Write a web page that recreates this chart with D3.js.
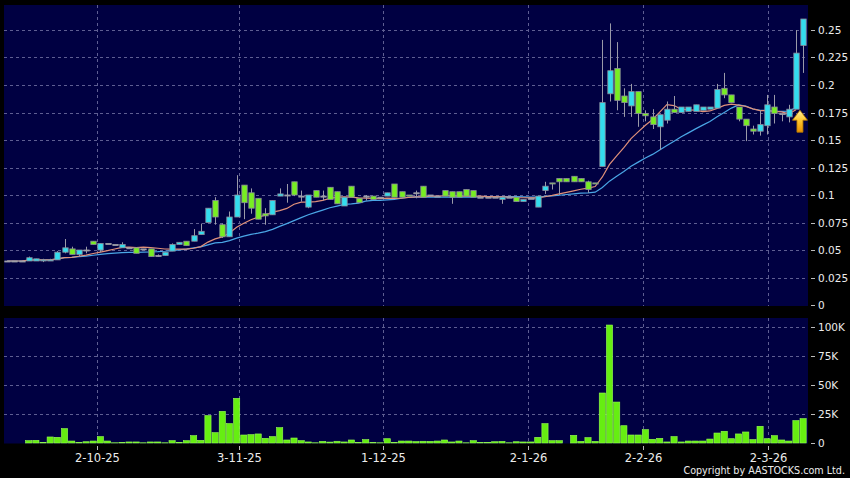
<!DOCTYPE html>
<html><head><meta charset="utf-8">
<script src="https://cdn.jsdelivr.net/npm/d3@7"></script>
<style>html,body{margin:0;padding:0;background:#000;}svg{display:block;}</style>
</head><body>
<svg id="chart" width="850" height="478"></svg>
<script>
// ---- data ----
const opens  = [0.040,0.040,0.040,0.040,0.040,0.040,0.040,0.041,0.048,0.051,0.046,0.050,0.058,0.050,0.056,0.055,0.052,0.052,0.052,0.051,0.051,0.045,0.045,0.049,0.055,0.058,0.058,0.064,0.075,0.095,0.073,0.062,0.080,0.109,0.102,0.097,0.083,0.082,0.099,0.100,0.112,0.099,0.089,0.104,0.099,0.107,0.103,0.090,0.108,0.097,0.099,0.099,0.098,0.099,0.110,0.103,0.100,0.102,0.108,0.100,0.099,0.104,0.103,0.103,0.105,0.104,0.098,0.098,0.098,0.096,0.098,0.098,0.094,0.097,0.089,0.104,0.111,0.115,0.115,0.117,0.115,0.112,0.111,0.126,0.192,0.215,0.190,0.181,0.194,0.174,0.171,0.162,0.168,0.178,0.175,0.176,0.176,0.177,0.178,0.179,0.197,0.191,0.180,0.169,0.160,0.158,0.163,0.180,0.174,0.171,0.178,0.236];
const highs  = [0.040,0.040,0.040,0.044,0.042,0.042,0.042,0.049,0.060,0.053,0.050,0.053,0.058,0.056,0.056,0.055,0.057,0.052,0.052,0.051,0.051,0.046,0.048,0.056,0.057,0.058,0.069,0.074,0.088,0.098,0.074,0.085,0.118,0.109,0.106,0.097,0.088,0.095,0.106,0.110,0.112,0.104,0.100,0.104,0.104,0.107,0.103,0.098,0.108,0.097,0.100,0.099,0.098,0.102,0.110,0.103,0.100,0.104,0.108,0.100,0.099,0.104,0.103,0.103,0.105,0.104,0.098,0.098,0.098,0.098,0.098,0.098,0.096,0.097,0.099,0.112,0.111,0.115,0.115,0.117,0.115,0.113,0.111,0.241,0.256,0.239,0.197,0.201,0.194,0.177,0.178,0.173,0.185,0.190,0.180,0.180,0.182,0.180,0.180,0.201,0.211,0.191,0.180,0.169,0.163,0.177,0.191,0.191,0.174,0.182,0.250,0.260];
const lows   = [0.040,0.040,0.040,0.040,0.040,0.039,0.040,0.041,0.047,0.046,0.044,0.047,0.055,0.048,0.056,0.055,0.052,0.052,0.047,0.051,0.044,0.044,0.045,0.049,0.055,0.054,0.058,0.064,0.075,0.073,0.061,0.062,0.080,0.078,0.083,0.078,0.073,0.082,0.099,0.093,0.099,0.094,0.088,0.098,0.095,0.096,0.092,0.090,0.098,0.093,0.095,0.096,0.098,0.099,0.098,0.098,0.099,0.097,0.098,0.100,0.099,0.099,0.092,0.098,0.099,0.098,0.098,0.098,0.098,0.092,0.098,0.094,0.094,0.097,0.089,0.101,0.105,0.100,0.112,0.112,0.112,0.102,0.110,0.126,0.185,0.177,0.171,0.171,0.162,0.167,0.160,0.141,0.165,0.175,0.175,0.176,0.176,0.177,0.178,0.179,0.188,0.184,0.167,0.149,0.155,0.154,0.155,0.165,0.167,0.166,0.178,0.211];
const closes = [0.040,0.040,0.040,0.043,0.042,0.041,0.041,0.048,0.052,0.046,0.050,0.050,0.055,0.056,0.056,0.055,0.055,0.052,0.047,0.051,0.044,0.045,0.048,0.055,0.057,0.054,0.063,0.067,0.088,0.080,0.062,0.080,0.100,0.093,0.088,0.078,0.081,0.095,0.101,0.100,0.100,0.099,0.100,0.098,0.099,0.096,0.092,0.098,0.098,0.093,0.099,0.096,0.098,0.102,0.098,0.098,0.099,0.102,0.098,0.100,0.099,0.099,0.098,0.098,0.099,0.098,0.098,0.098,0.098,0.098,0.098,0.094,0.096,0.097,0.099,0.108,0.110,0.112,0.112,0.112,0.112,0.105,0.110,0.184,0.213,0.186,0.184,0.194,0.174,0.172,0.164,0.173,0.178,0.175,0.180,0.180,0.182,0.180,0.180,0.196,0.191,0.184,0.169,0.163,0.158,0.164,0.182,0.174,0.174,0.178,0.229,0.260];
const volumes = [0,0,0,2000,2300,500,5200,4900,12400,1700,300,1100,1700,5500,1700,200,300,900,900,200,900,900,200,2000,500,2000,6300,2300,23600,8900,27300,16700,38500,6900,7200,7800,4000,5500,13200,2600,4300,2000,900,200,1400,800,1500,900,2600,300,2900,300,200,3700,500,1700,1700,1200,1500,1400,1700,2600,900,1700,200,2000,300,300,1100,1400,200,1100,900,900,4900,16700,2000,2000,0,6600,1400,4600,1400,43100,101700,35300,14900,6900,6900,11500,3200,4000,900,5500,900,1700,1700,1700,3400,8600,10100,3700,7800,9500,2900,14400,3700,6300,2600,1700,19300,21000];
const priceTicks = [0,0.025,0.05,0.075,0.1,0.125,0.15,0.175,0.2,0.225,0.25];
const priceTickLabels = ["0","0.025","0.05","0.075","0.1","0.125","0.15","0.175","0.2","0.225","0.25"];
const volumeTicks = [0,25000,50000,75000,100000];
const volumeTickLabels = ["0","25K","50K","75K","100K"];
const dateTickIndex = [12.5,32.3,52.4,72.6,88.7,106.1];
const dateTickLabels = ["2-10-25","3-11-25","1-12-25","2-1-26","2-2-26","2-3-26"];
const maShort = 10, maLong = 20;

// ---- layout ----
const W = 850, H = 478;
const L = 4, R = 808;
const pTop = 5, pBot = 306;
const vTop = 318, vBot = 443.5;
const n = closes.length;

const svg = d3.select("#chart");
svg.append("rect").attr("width", W).attr("height", H).attr("fill", "#000");

const x = d3.scaleLinear().domain([-0.5, n - 0.5]).range([3.6, 806.7]);
const yP = d3.scaleLinear().domain([0, 0.25]).range([305, 30]);
const yV = d3.scaleLinear().domain([0, 100000]).range([443, 327]);

const navy = "#000042";
const gridCol = "#5e5e92";
const cyan = "#33ddee", green = "#77ee22";

// panels
svg.append("rect").attr("x", L).attr("y", pTop).attr("width", R - L).attr("height", pBot - pTop).attr("fill", navy);
svg.append("rect").attr("x", L).attr("y", vTop).attr("width", R - L).attr("height", vBot - vTop).attr("fill", navy);

// grid
const g = svg.append("g");
g.selectAll(".hp").data(priceTicks.filter(t => t > 0)).join("line")
  .attr("x1", L).attr("x2", R).attr("y1", d => Math.round(yP(d)) + 0.5).attr("y2", d => Math.round(yP(d)) + 0.5)
  .attr("stroke", gridCol).attr("stroke-dasharray", "3,3");
g.selectAll(".hv").data(volumeTicks.filter(t => t > 0)).join("line")
  .attr("x1", L).attr("x2", R).attr("y1", d => Math.round(yV(d)) + 0.5).attr("y2", d => Math.round(yV(d)) + 0.5)
  .attr("stroke", gridCol).attr("stroke-dasharray", "3,3");
dateTickIndex.forEach(t => {
  const xx = Math.round(x(t)) + 0.5;
  [[pTop, pBot], [vTop, vBot]].forEach(([a, b]) => {
    g.append("line").attr("x1", xx).attr("x2", xx).attr("y1", a).attr("y2", b)
      .attr("stroke", gridCol).attr("stroke-dasharray", "3,3");
  });
});

// moving averages (drawn through the previous session, as in the reference)
function sma(p) {
  return closes.map((c, i) => d3.mean(closes.slice(Math.max(0, i - p + 1), i + 1)));
}
const line = d3.line().x((d, i) => x(i)).y(d => yP(d));
svg.append("path").datum(sma(maLong).slice(0, n - 1)).attr("d", line).attr("fill", "none")
  .attr("stroke", "#4aa6e6").attr("stroke-width", 1.2);
svg.append("path").datum(sma(maShort).slice(0, n - 1)).attr("d", line).attr("fill", "none")
  .attr("stroke", "#e0907a").attr("stroke-width", 1.2);

// candles
const data = closes.map((c, i) => ({ i, o: opens[i], h: highs[i], l: lows[i], c, v: volumes[i] }));
const cg = svg.append("g");
cg.selectAll(".wick").data(data).join("line")
  .attr("x1", d => Math.round(x(d.i)) + 0.5).attr("x2", d => Math.round(x(d.i)) + 0.5)
  .attr("y1", d => yP(d.h)).attr("y2", d => yP(d.l))
  .attr("stroke", "#9a9aa8").attr("stroke-width", 1);
const bw = 5.4;
cg.selectAll(".body").data(data).join("rect")
  .attr("x", d => Math.round(x(d.i)) + 0.5 - bw / 2)
  .attr("width", bw)
  .attr("y", d => yP(Math.max(d.o, d.c)))
  .attr("height", d => Math.max(1, Math.abs(yP(d.o) - yP(d.c))))
  .attr("fill", d => d.c > d.o ? cyan : d.c < d.o ? green : "#a0a0a8")
  .attr("stroke", d => d.c === d.o ? "#a0a0a8" : "#8a8a9a")
  .attr("stroke-width", 0.8);

// volume bars
const vbw = 6.2;
svg.append("g").selectAll("rect").data(data).join("rect")
  .attr("x", d => x(d.i) - vbw / 2).attr("width", vbw)
  .attr("y", d => yV(d.v)).attr("height", d => yV(0) - yV(d.v))
  .attr("fill", "#66ee11").attr("stroke", "#99ff55").attr("stroke-width", 0.6);

// arrow marking the latest signal
const ax = x(n - 2) + 4, ay = yP(opens[n - 2]) + 1;
const defs = svg.append("defs");
const grad = defs.append("linearGradient").attr("id", "ag").attr("x1", 0).attr("y1", 0).attr("x2", 0).attr("y2", 1);
grad.append("stop").attr("offset", "0%").attr("stop-color", "#fff2a0");
grad.append("stop").attr("offset", "45%").attr("stop-color", "#ffc830");
grad.append("stop").attr("offset", "100%").attr("stop-color", "#e89000");
svg.append("path")
  .attr("d", `M${ax},${ay} L${ax + 7.5},${ay + 10} L${ax + 3},${ay + 10} L${ax + 3},${ay + 22} L${ax - 3},${ay + 22} L${ax - 3},${ay + 10} L${ax - 7.5},${ay + 10} Z`)
  .attr("fill", "url(#ag)").attr("stroke", "#b87800").attr("stroke-width", 0.8);

// axis labels
const font = "DejaVu Sans, Verdana, sans-serif";
const txt = "#ececec";
priceTicks.forEach((t, k) => {
  const yy = Math.round(yP(t)) + 0.5;
  svg.append("line").attr("x1", 811).attr("x2", 815).attr("y1", yy).attr("y2", yy).attr("stroke", "#bbb");
  svg.append("text").attr("x", 818).attr("y", yy).attr("dy", "0.36em")
    .attr("font-family", font).attr("font-size", 10.5).attr("fill", txt).text(priceTickLabels[k]);
});
volumeTicks.forEach((t, k) => {
  const yy = Math.round(yV(t)) + 0.5;
  svg.append("line").attr("x1", 811).attr("x2", 815).attr("y1", yy).attr("y2", yy).attr("stroke", "#bbb");
  svg.append("text").attr("x", 818).attr("y", yy).attr("dy", "0.36em")
    .attr("font-family", font).attr("font-size", 10.5).attr("fill", txt).text(volumeTickLabels[k]);
});
dateTickIndex.forEach((t, k) => {
  const xx = Math.round(x(t)) + 0.5;
  svg.append("line").attr("x1", xx).attr("x2", xx).attr("y1", 446).attr("y2", 450).attr("stroke", "#bbb");
  svg.append("text").attr("x", xx).attr("y", 462).attr("text-anchor", "middle")
    .attr("font-family", font).attr("font-size", 11.5).attr("fill", txt).text(dateTickLabels[k]);
});
svg.append("text").attr("x", 845).attr("y", 474).attr("text-anchor", "end")
  .attr("font-family", font).attr("font-size", 9.6).attr("fill", txt).text("Copyright by AASTOCKS.com Ltd.");
</script>
</body></html>
